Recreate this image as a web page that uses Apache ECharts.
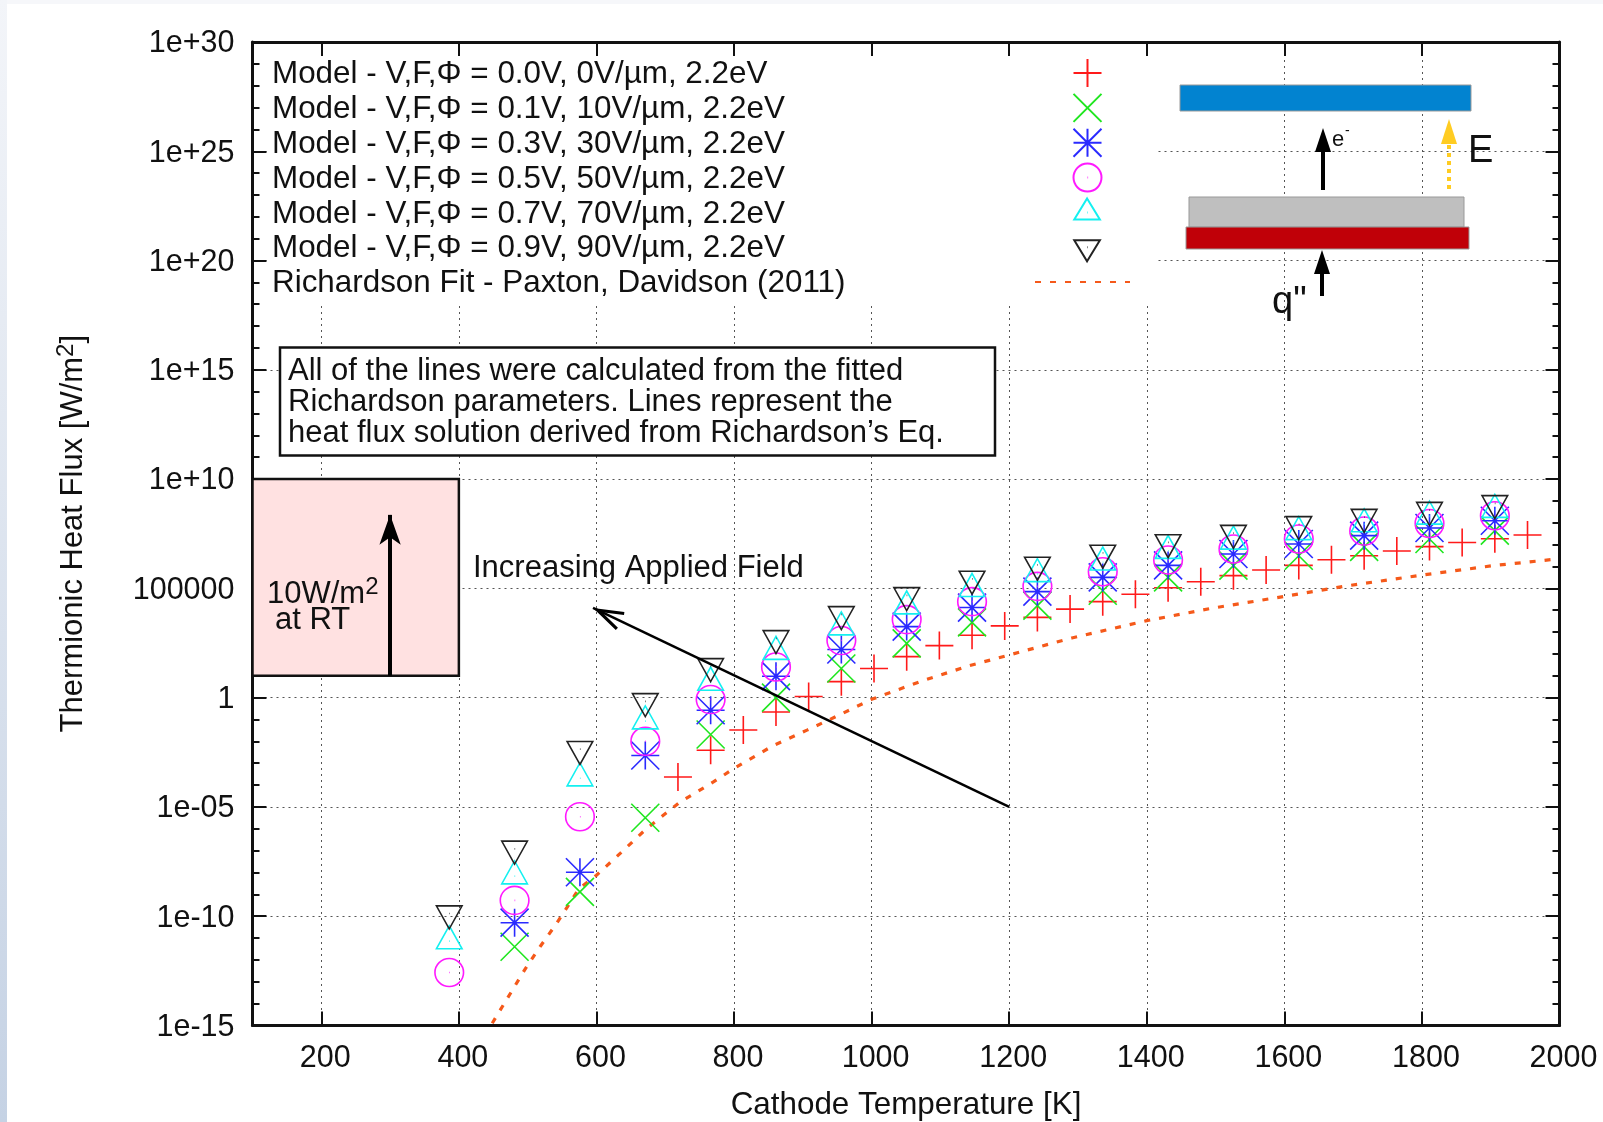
<!DOCTYPE html>
<html><head><meta charset="utf-8">
<style>html,body{margin:0;padding:0;background:#fff}#c{width:1603px;height:1122px}</style>
<script src="https://cdn.jsdelivr.net/npm/echarts@6/dist/echarts.min.js"></script>
</head><body><div id="c"></div>
<script>
// Temperatures [K]
const modelT = [386,481,576,671,766,861,956,1051,1146,1241,1336,1431,1526,1621,1716,1811,1906];
const redT = [718.5,766,813.5,861,908.5,956,1003.5,1051,1098.5,1146,1193.5,1241,1288.5,1336,1383.5,1431,1478.5,1526,1573.5,1621,1668.5,1716,1763.5,1811,1858.5,1906,1953.5];
// log10 of heat flux
const redLog = [-3.63,-2.41,-1.48,-0.66,0.05,0.73,1.33,1.875,2.38,2.85,3.28,3.67,4.05,4.39,4.73,5.03,5.30,5.58,5.84,6.05,6.31,6.49,6.71,6.91,7.10,7.27,7.44];
const greenLog = [null,-11.4,-8.89,-5.5,-1.69,0,1.33,2.48,3.44,4.21,4.89,5.5,6.04,6.49,6.9,7.26,7.64];
const blueLog = [null,-10.3,-7.99,-2.65,-0.58,0.98,2.2,3.25,4.12,4.85,5.5,6.05,6.57,7.03,7.41,7.76,8.09];
const magentaLog = [-12.58,-9.28,-5.45,-2.0,-0.09,1.40,2.61,3.57,4.39,5.09,5.76,6.3,6.8,7.26,7.62,7.97,8.32];
const cyanLog = [-11.14,-8.17,-3.69,-1.08,0.69,2.1,3.22,4.18,4.98,5.66,6.19,6.72,7.15,7.58,7.94,8.29,8.6];
const blackLog = [-9.88,-6.92,-2.36,-0.17,1.43,2.71,3.81,4.68,5.43,6.07,6.62,7.10,7.53,7.93,8.26,8.58,8.89];
const fitT = [448.5,469,497,518,542,575,600,634.5,673,722,770,801,855,906,938,1000,1072,1142,1200,1291,1400,1495,1600,1686,1801,1904,1996];
const fitLog = [-14.9,-13.84,-12.39,-11.4,-10.34,-8.73,-8.13,-7.13,-5.99,-4.77,-3.86,-3.22,-2.23,-1.49,-1.02,-0.08,0.75,1.46,1.95,2.73,3.52,4.09,4.63,5.09,5.61,6.04,6.34];
const xTicks = [200,400,600,800,1000,1200,1400,1600,1800,2000];
const seriesNames = [
 'Model - V,F,Φ = 0.0V, 0V/µm, 2.2eV','Model - V,F,Φ = 0.1V, 10V/µm, 2.2eV','Model - V,F,Φ = 0.3V, 30V/µm, 2.2eV',
 'Model - V,F,Φ = 0.5V, 50V/µm, 2.2eV','Model - V,F,Φ = 0.7V, 70V/µm, 2.2eV','Model - V,F,Φ = 0.9V, 90V/µm, 2.2eV',
 'Richardson Fit - Paxton, Davidson (2011)'];
const noteLines = ['All of the lines were calculated from the fitted','Richardson parameters. Lines represent the','heat flux solution derived from Richardson\u2019s Eq.'];

const FONT = '"Liberation Sans", Arial, sans-serif';
const L = 252.5, R = 1559.5, T = 42, B = 1025.4;
const pts = (xs, ls) => xs.map((x,i)=> ls[i]===null ? null : [x, Math.pow(10, ls[i])]).filter(Boolean);

const sym = {
 plus:'path://M0,-14L0,14M-14,0L14,0',
 cross:'path://M-14,-14L14,14M-14,14L14,-14',
 star:'path://M0,-14L0,14M-14,0L14,0M-14,-14L14,14M-14,14L14,-14',
 circle:'path://M-14,0A14,14 0 1 1 14,0A14,14 0 1 1 -14,0ZM0,0L0.6,0',
 up:'path://M0,-15.3L14,7.7L-14,7.7ZM0,0L0.6,0M0,15.3L0,15.3',
 down:'path://M0,15.3L14,-7.7L-14,-7.7ZM0,0L0.6,0M0,-15.3L0,-15.3',
 head:'path://M0,0L10,30L7,31L0,10L-7,31L-10,30ZM0,-31L0,-31'
};
// legend glyphs sit a little right of the legend line's centre: an empty point widens the box on the left
const legendIcon = s => s + 'M-24,0L-24,0';
const legendData = [sym.plus,sym.cross,sym.star,sym.circle,sym.up,sym.down]
  .map((s,i)=>({name:seriesNames[i],icon:legendIcon(s)})).concat([{name:seriesNames[6]}]);

function scat(i, sy, col, data, size, extra){
 return Object.assign({name:seriesNames[i],type:'scatter',data,symbol:sy,symbolSize:size,symbolKeepAspect:true,silent:true,
   itemStyle:{color:'none',borderColor:col,borderWidth:1.6,opacity:1},z:5+i,animation:false},extra||{});
}
function axisCommon(){return {
  axisLine:{show:true,onZero:false,lineStyle:{color:'#111',width:3}},
  axisTick:{show:true,inside:true,length:14,lineStyle:{color:'#111',width:2}}
};}
const dots = {show:true,lineStyle:{color:'#555',type:[2,4],width:1}};
const logLabel = v => { const e=Math.round(Math.log10(v)); if(e===0) return '1'; if(e===5) return '100000'; return e<0? '1e-'+String(-e).padStart(2,'0') : '1e+'+e; };
function minorY(pos){return {type:'log',logBase:10,gridIndex:1,position:pos,min:1e-15,max:1e30,interval:1,
   axisLine:{show:false},axisLabel:{show:false},splitLine:{show:false},
   axisTick:{show:true,inside:true,length:7,lineStyle:{color:'#111',width:2}}};}
const gridBox = {left:L,top:T,width:R-L,height:B-T,containLabel:false,outerBoundsMode:'none'};

const option = {
 animation:false,
 backgroundColor:'#fff',
 grid:[Object.assign({},gridBox),Object.assign({},gridBox)],
 xAxis:[
  (()=>{const a=axisCommon();a.axisTick.customValues=xTicks;return Object.assign(a,{type:'value',position:'bottom',min:100,max:2000,
    axisLabel:{show:true,customValues:xTicks,formatter:v=>String(v),fontFamily:FONT,fontSize:30.5,color:'#111',margin:18,padding:[0,0,0,8]},
    name:'Cathode Temperature [K]',nameLocation:'middle',nameGap:64,nameTextStyle:{fontFamily:FONT,fontSize:31.4,color:'#111'},splitLine:{show:false}});})(),
  (()=>{const a=axisCommon();a.axisTick.customValues=xTicks;return Object.assign(a,{type:'value',position:'top',min:100,max:2000,axisLabel:{show:false},splitLine:dots});})(),
  {type:'value',gridIndex:1,show:false,min:100,max:2000}
 ],
 yAxis:[
  Object.assign(axisCommon(),{type:'log',logBase:10,position:'left',min:1e-15,max:1e30,interval:5,
    axisLabel:{show:true,fontFamily:FONT,fontSize:30.5,color:'#111',margin:18,verticalAlign:'top',lineHeight:4,formatter:logLabel},
    name:'{a|Thermionic Heat Flux [W/m}{s|2}{a|]}',nameLocation:'middle',nameGap:160,nameRotate:90,
    nameTextStyle:{rich:{a:{fontFamily:FONT,fontSize:31,color:'#111'},s:{fontFamily:FONT,fontSize:24,color:'#111',padding:[0,0,14,0]}}},
    splitLine:{show:false}}),
  Object.assign(axisCommon(),{type:'log',logBase:10,position:'right',min:1e-15,max:1e30,interval:5,axisLabel:{show:false},splitLine:dots}),
  minorY('left'),minorY('right')
 ],
 legend:{
  show:true,orient:'vertical',left:272,top:56,padding:0,align:'right',itemGap:0.85,itemWidth:95,itemHeight:28,
  selectedMode:false,data:legendData,z:20,
  formatter:n=>'{a|'+n+'}',
  textStyle:{rich:{a:{fontFamily:FONT,fontSize:31.4,color:'#111',width:758,align:'left',lineHeight:28,padding:[3,0,0,0]}}}
 },
 graphic:[
  {type:'rect',silent:true,z:1,shape:{x:0,y:0,width:1603,height:4},style:{fill:'#f6f7fa'}},
  {type:'rect',silent:true,z:1,shape:{x:0,y:0,width:7,height:1122},style:{fill:{type:'linear',x:0,y:0,x2:0,y2:1,colorStops:[{offset:0,color:'#f3f5f9'},{offset:1,color:'#c5d2e4'}]}}},
  {type:'rect',silent:true,z:1,shape:{x:L+16,y:T+16,width:1157-L-16,height:303-T-16},style:{fill:'#fff'}},
  {type:'rect',silent:true,z:3,shape:{x:280,y:347.5,width:715,height:108},style:{fill:'#fff',stroke:'#111',lineWidth:2.5}},
  ...noteLines.map((t,i)=>({type:'text',silent:true,z:4,x:288,y:371+i*31.3,style:{text:t,fill:'#111',font:'31px '+FONT,textVerticalAlign:'middle'}})),
  {type:'text',silent:true,z:4,x:473,y:568,style:{text:'Increasing Applied Field',fill:'#111',font:'31px '+FONT,textVerticalAlign:'middle'}},
  {type:'text',silent:true,z:30,x:267,y:594,style:{text:'{a|10W/m}{s|2}',rich:{a:{font:'31px '+FONT,fill:'#111'},s:{font:'24px '+FONT,fill:'#111',padding:[0,0,14,0]}},textVerticalAlign:'middle'}},
  {type:'text',silent:true,z:30,x:275,y:620,style:{text:'at RT',fill:'#111',font:'31px '+FONT,textVerticalAlign:'middle'}},
  // schematic
  {type:'rect',silent:true,z:15,shape:{x:1180,y:85,width:291,height:26},style:{fill:'#0283d0',stroke:'#999',lineWidth:1}},
  {type:'rect',silent:true,z:15,shape:{x:1189,y:197,width:275,height:30},style:{fill:'#bfbfbf',stroke:'#999',lineWidth:1}},
  {type:'rect',silent:true,z:15,shape:{x:1186,y:227,width:283,height:22},style:{fill:'#c00008',stroke:'#999',lineWidth:1}},
  {type:'line',silent:true,z:15,shape:{x1:1323,y1:190,x2:1323,y2:150},style:{stroke:'#000',lineWidth:4}},
  {type:'polygon',silent:true,z:15,shape:{points:[[1323,128],[1315,152],[1331,152]]},style:{fill:'#000'}},
  {type:'text',silent:true,z:15,x:1332,y:140,style:{text:'e',fill:'#111',font:'22px '+FONT,textVerticalAlign:'middle'}},
  {type:'text',silent:true,z:15,x:1345,y:131,style:{text:'-',fill:'#111',font:'14px '+FONT,textVerticalAlign:'middle'}},
  {type:'line',silent:true,z:15,shape:{x1:1449,y1:189,x2:1449,y2:145},style:{stroke:'#ffcc22',lineWidth:4,lineDash:[4,4]}},
  {type:'polygon',silent:true,z:15,shape:{points:[[1449,119],[1441,144],[1457,144]]},style:{fill:'#ffcc22'}},
  {type:'text',silent:true,z:15,x:1468,y:152,style:{text:'E',fill:'#111',font:'38px '+FONT,textVerticalAlign:'middle'}},
  {type:'line',silent:true,z:15,shape:{x1:1322,y1:296,x2:1322,y2:270},style:{stroke:'#000',lineWidth:4}},
  {type:'polygon',silent:true,z:15,shape:{points:[[1322,250],[1314,274],[1330,274]]},style:{fill:'#000'}},
  {type:'text',silent:true,z:15,x:1272,y:303,style:{text:'q"',fill:'#111',font:'38px '+FONT,textVerticalAlign:'middle'}}
 ],
 series:[
  scat(0,sym.plus,'#ff1a1a',pts(redT,redLog),[28,28],{
    markArea:{silent:true,z:2,itemStyle:{color:'#ffe1e1',borderColor:'#111',borderWidth:2.5},data:[[{coord:[100,1e10]},{coord:[400,10]}]]},
    markLine:{silent:true,z:25,animation:false,symbol:['none','arrow'],symbolSize:[16,30],label:{show:false},lineStyle:{color:'#000',width:4,type:'solid'},
      data:[[{coord:[300,10]},{coord:[300,2.3e8]}]]}
  }),
  scat(1,sym.cross,'#1fe61f',pts(modelT,greenLog),[28,28]),
  scat(2,sym.star,'#2a2aff',pts(modelT,blueLog),[28,28]),
  scat(3,sym.circle,'#ff1aff',pts(modelT,magentaLog),[28.6,28]),
  scat(4,sym.up,'#14f0f0',pts(modelT,cyanLog),[28,30.6]),
  scat(5,sym.down,'#222',pts(modelT,blackLog),[28,30.6],{
    markLine:{silent:true,z:25,animation:false,symbol:['none',sym.head],symbolSize:[20,62],label:{show:false},lineStyle:{color:'#000',width:2.5,type:'solid'},
      data:[[{coord:[1200,1e-5]},{coord:[595,1.26e4]}]]}
  }),
  {name:seriesNames[6],type:'line',data:pts(fitT,fitLog),symbol:'none',showSymbol:false,smooth:false,silent:true,z:4,
    lineStyle:{color:'#f5591a',width:3.2,type:[6,9]},itemStyle:{color:'transparent'},animation:false}
 ]
};
const chart = echarts.init(document.getElementById('c'),null,{renderer:'canvas',width:1603,height:1122});
chart.setOption(option);
</script></body></html>
